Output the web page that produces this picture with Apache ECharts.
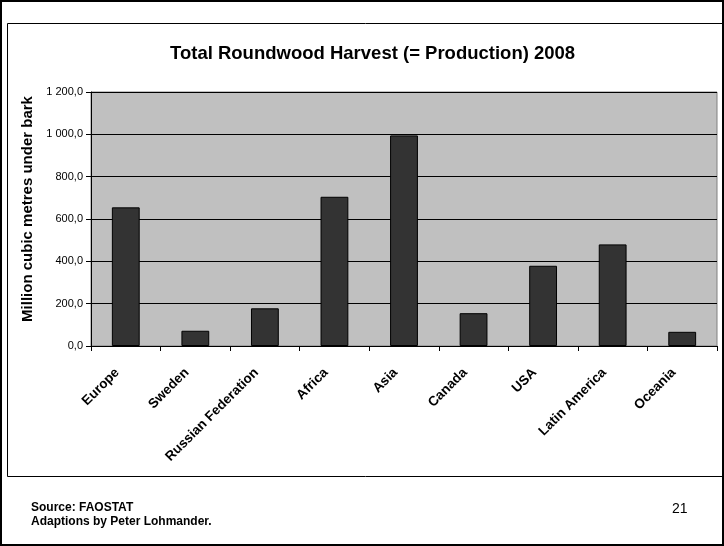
<!DOCTYPE html>
<html><head><meta charset="utf-8">
<script src="https://cdn.jsdelivr.net/npm/echarts@6/dist/echarts.min.js"></script>
<style>html,body{margin:0;padding:0;background:#fff}#c{width:724px;height:546px}</style>
</head><body><div id="c"></div>
<script>
const categories = ["Europe","Sweden","Russian Federation","Africa","Asia","Canada","USA","Latin America","Oceania"];
const harvest = [655, 72, 178, 705, 995, 155, 379, 480, 67];
const yTicks = [0, 200, 400, 600, 800, 1000, 1200];

function fmt(v){
  const s = v.toFixed(1).replace('.', ',');
  const parts = s.split(',');
  const ip = parts[0].replace(/\B(?=(\d{3})+(?!\d))/g, ' ');
  return ip + ',' + parts[1];
}
const FF = 'Liberation Sans, Arial, sans-serif';
const chart = echarts.init(document.getElementById('c'));
chart.setOption({
  animation:false,
  textStyle:{fontFamily:FF},
  title:{text:'Total Roundwood Harvest (= Production) 2008', left:165, top:39,
    textStyle:{fontSize:18.5, fontWeight:'bold', color:'#000', fontFamily:FF}},
  grid:{left:91, right:7, top:92, bottom:200, show:true, backgroundColor:'#c0c0c0', borderColor:'#808080', borderWidth:1},
  xAxis:{type:'category', data:categories,
    axisLine:{lineStyle:{color:'#000', width:1}},
    axisTick:{show:true, alignWithLabel:false, length:5, lineStyle:{color:'#000'}},
    axisLabel:{rotate:45, margin:16, interval:0, fontSize:13.5, fontWeight:'bold', color:'#000', padding:[0,12,0,0]}
  },
  yAxis:{type:'value', min:yTicks[0], max:yTicks[yTicks.length-1], interval:200,
    name:'Million cubic metres under bark', nameLocation:'middle', nameGap:48, nameRotate:90,
    nameTextStyle:{fontSize:15, fontWeight:'bold', color:'#000', padding:[0,0,0,20]},
    axisLine:{show:true, lineStyle:{color:'#000'}},
    axisTick:{show:true, length:5, lineStyle:{color:'#000'}},
    axisLabel:{fontSize:11, color:'#000', margin:8, formatter:fmt},
    splitLine:{show:true, lineStyle:{color:'#000', width:1}}
  },
  series:[{type:'bar', data:harvest, barWidth:'40%',
    itemStyle:{color:'#333333', borderColor:'#000', borderWidth:1}}],
  graphic:[
    {type:'rect', shape:{x:1, y:1, width:722, height:544}, style:{fill:'none', stroke:'#000', lineWidth:2}, silent:true},
    {type:'rect', shape:{x:7.5, y:23.5, width:716, height:453}, style:{fill:'none', stroke:'#000', lineWidth:1}, silent:true},
    {type:'text', left:31, top:502, style:{text:'Source: FAOSTAT', font:'bold 12px Liberation Sans, Arial, sans-serif', fill:'#000'}},
    {type:'text', left:31, top:516, style:{text:'Adaptions by Peter Lohmander.', font:'bold 12px Liberation Sans, Arial, sans-serif', fill:'#000'}},
    {type:'text', left:672, top:502, style:{text:'21', font:'14px Liberation Sans, Arial, sans-serif', fill:'#000'}}
  ]
});
</script></body></html>
